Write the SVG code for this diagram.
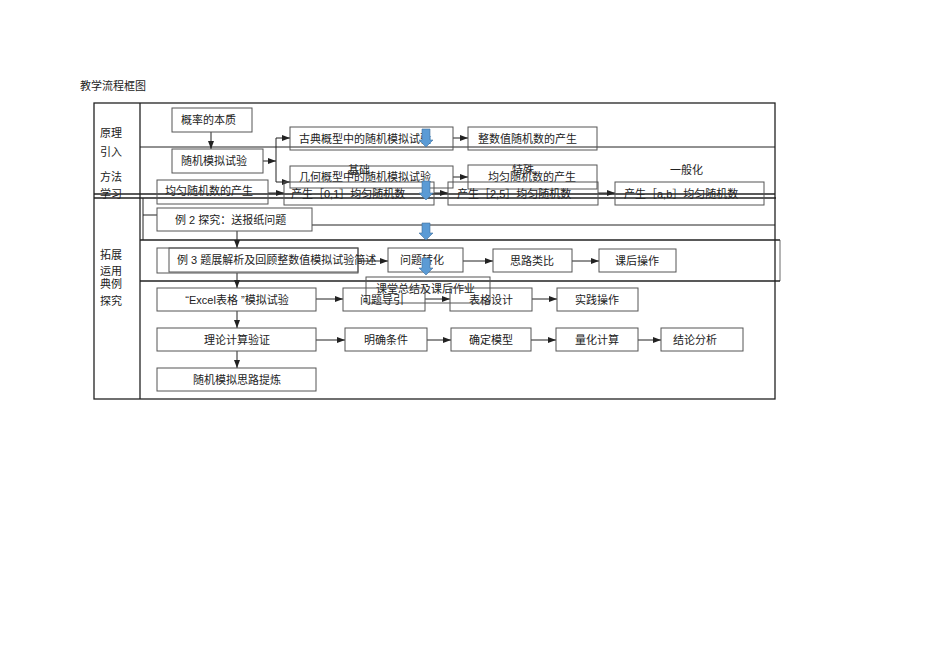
<svg xmlns="http://www.w3.org/2000/svg" width="950" height="672" viewBox="0 0 950 672">
<defs>
<style>
text{font-family:"Liberation Sans","Noto Sans CJK SC",sans-serif;font-size:11px;fill:#222}
.c{text-anchor:middle}
.b{fill:none;stroke:#555;stroke-width:1}
.f{fill:none;stroke:#222;stroke-width:1.3}
.fl{fill:none;stroke:#444;stroke-width:0.8}
.a{fill:none;stroke:#222;stroke-width:1;marker-end:url(#ah)}
.l{fill:none;stroke:#222;stroke-width:1}
.blue{fill:#5b9bd5;stroke:#41719c;stroke-width:0.6}
</style>
<marker id="ah" viewBox="0 0 8 6" refX="8" refY="3" markerWidth="8" markerHeight="6" markerUnits="userSpaceOnUse" orient="auto">
<path d="M0,0 L8,3 L0,6 Z" fill="#222"/>
</marker>
</defs>
<rect width="950" height="672" fill="#fff"/>
<text x="80" y="90">教学流程框图</text>

<g id="frame">
<rect class="f" x="94" y="103" width="681" height="296"/>
<line class="f" x1="140" y1="103" x2="140" y2="399"/>
<line class="l" x1="140" y1="147" x2="775" y2="147"/>
<line class="f" x1="94" y1="194" x2="775" y2="194"/>
<line class="f" x1="94" y1="198" x2="776" y2="198"/>
<line class="l" x1="143" y1="198" x2="143" y2="240"/>
<line class="l" x1="143" y1="215" x2="157" y2="215"/>
<line class="l" x1="312" y1="225" x2="775" y2="225"/>
<line class="f" x1="140" y1="240" x2="780" y2="240"/>
<line class="fl" x1="780" y1="240" x2="780" y2="281"/>
<line class="f" x1="140" y1="281" x2="780" y2="281"/>
<text x="100" y="137">原理</text>
<text x="100" y="156">引入</text>
<text x="100" y="181">方法</text>
<text x="100" y="198">学习</text>
<text x="100" y="259">拓展</text>
<text x="100" y="275">运用</text>
<text x="100" y="288">典例</text>
<text x="100" y="305">探究</text>
<text x="348" y="174">基础</text>
<text x="512" y="174">特殊</text>
<text x="670" y="174">一般化</text>
</g>

<g id="connectors">
<line class="a" x1="211" y1="132" x2="211" y2="149"/>
<line class="a" x1="263" y1="161" x2="276" y2="161"/>
<line class="l" x1="276" y1="138" x2="276" y2="182"/>
<line class="a" x1="276" y1="138" x2="290" y2="138"/>
<line class="a" x1="276" y1="182" x2="290" y2="182"/>
<line class="a" x1="453" y1="138" x2="468" y2="138"/>
<line class="a" x1="453" y1="177" x2="468" y2="177"/>
<line class="a" x1="268" y1="193" x2="284" y2="193"/>
<line class="a" x1="434" y1="193" x2="448" y2="193"/>
<line class="a" x1="598" y1="193" x2="615" y2="193"/>
<line class="a" x1="237" y1="231" x2="237" y2="248"/>
<line class="a" x1="237" y1="273" x2="237" y2="288"/>
<line class="a" x1="358" y1="261" x2="388" y2="261"/>
<line class="a" x1="463" y1="261" x2="493" y2="261"/>
<line class="a" x1="572" y1="261" x2="599" y2="261"/>
<line class="a" x1="316" y1="299" x2="343" y2="299"/>
<line class="a" x1="425" y1="299" x2="450" y2="299"/>
<line class="a" x1="532" y1="299" x2="557" y2="299"/>
<line class="a" x1="237" y1="311" x2="237" y2="328"/>
<line class="a" x1="237" y1="351" x2="237" y2="368"/>
<line class="a" x1="316" y1="340" x2="345" y2="340"/>
<line class="a" x1="427" y1="340" x2="451" y2="340"/>
<line class="a" x1="531" y1="340" x2="556" y2="340"/>
<line class="a" x1="638" y1="340" x2="661" y2="340"/>
</g>

<g id="n1"><rect class="b" x="172" y="108" width="80" height="24"/><text x="181" y="124">概率的本质</text></g>
<g id="n2"><rect class="b" x="172" y="149" width="91" height="24"/><text x="181" y="165">随机模拟试验</text></g>
<g id="n3"><rect class="b" x="290" y="127" width="163" height="23"/><text x="299" y="143">古典概型中的随机模拟试验</text></g>
<g id="n4"><rect class="b" x="468" y="127" width="129" height="23"/><text x="478" y="143">整数值随机数的产生</text></g>
<g id="n5"><rect class="b" x="290" y="166" width="163" height="22"/><text x="299" y="181">几何概型中的随机模拟试验</text></g>
<g id="n6"><rect class="b" x="468" y="165" width="129" height="24"/><text class="c" x="532" y="181">均匀随机数的产生</text></g>
<g id="n7"><rect class="b" x="157" y="180" width="111" height="24"/><text x="165" y="195">均匀随机数的产生</text></g>
<g id="n8"><rect class="b" x="284" y="182" width="150" height="23"/><text x="291" y="198">产生［0,1］均匀随机数</text></g>
<g id="n9"><rect class="b" x="448" y="182" width="150" height="23"/><text x="457" y="198">产生［2,5］均匀随机数</text></g>
<g id="n10"><rect class="b" x="615" y="182" width="149" height="23"/><text x="624" y="198">产生［a,b］均匀随机数</text></g>
<g id="n11"><rect class="b" x="157" y="208" width="155" height="23"/><text x="175" y="224">例 2 探究：送报纸问题</text></g>
<g id="n12"><rect class="b" x="157" y="248" width="201" height="25"/><rect class="b" x="169" y="248" width="189" height="24"/><text x="177" y="264">例 3 题展解析及回顾整数值模拟试验简述</text></g>
<g id="n13"><rect class="b" x="388" y="248" width="75" height="24"/><text x="400" y="264">问题转化</text></g>
<g id="n14"><rect class="b" x="493" y="249" width="79" height="23"/><text class="c" x="532" y="265">思路类比</text></g>
<g id="n15"><rect class="b" x="599" y="249" width="77" height="23"/><text class="c" x="637" y="265">课后操作</text></g>
<g id="n16"><rect class="b" x="366" y="277" width="124" height="26"/><text x="376" y="293">课堂总结及课后作业</text></g>
<g id="n17"><rect class="b" x="157" y="288" width="159" height="23"/><text class="c" x="237" y="304">“Excel表格 ”模拟试验</text></g>
<g id="n18"><rect class="b" x="343" y="288" width="82" height="23"/><text x="360" y="304">问题导引</text></g>
<g id="n19"><rect class="b" x="450" y="288" width="82" height="23"/><text class="c" x="491" y="304">表格设计</text></g>
<g id="n20"><rect class="b" x="557" y="288" width="81" height="23"/><text class="c" x="597" y="304">实践操作</text></g>
<g id="n21"><rect class="b" x="157" y="328" width="159" height="23"/><text class="c" x="237" y="344">理论计算验证</text></g>
<g id="n22"><rect class="b" x="345" y="328" width="82" height="23"/><text class="c" x="386" y="344">明确条件</text></g>
<g id="n23"><rect class="b" x="451" y="328" width="80" height="23"/><text class="c" x="491" y="344">确定模型</text></g>
<g id="n24"><rect class="b" x="556" y="328" width="82" height="23"/><text class="c" x="597" y="344">量化计算</text></g>
<g id="n25"><rect class="b" x="661" y="328" width="82" height="23"/><text x="673" y="344">结论分析</text></g>
<g id="n26"><rect class="b" x="157" y="368" width="159" height="23"/><text class="c" x="237" y="384">随机模拟思路提炼</text></g>

<g id="blue-arrows">
<polygon class="blue" points="422,129 430,129 430,140 433,140 426,147 419,140 422,140"/>
<polygon class="blue" points="422,181 430,181 430,193 433,193 426,200 419,193 422,193"/>
<polygon class="blue" points="422,223 430,223 430,233 433,233 426,240 419,233 422,233"/>
<polygon class="blue" points="422,258 430,258 430,268 433,268 426,275 419,268 422,268"/>
</g>
</svg>
